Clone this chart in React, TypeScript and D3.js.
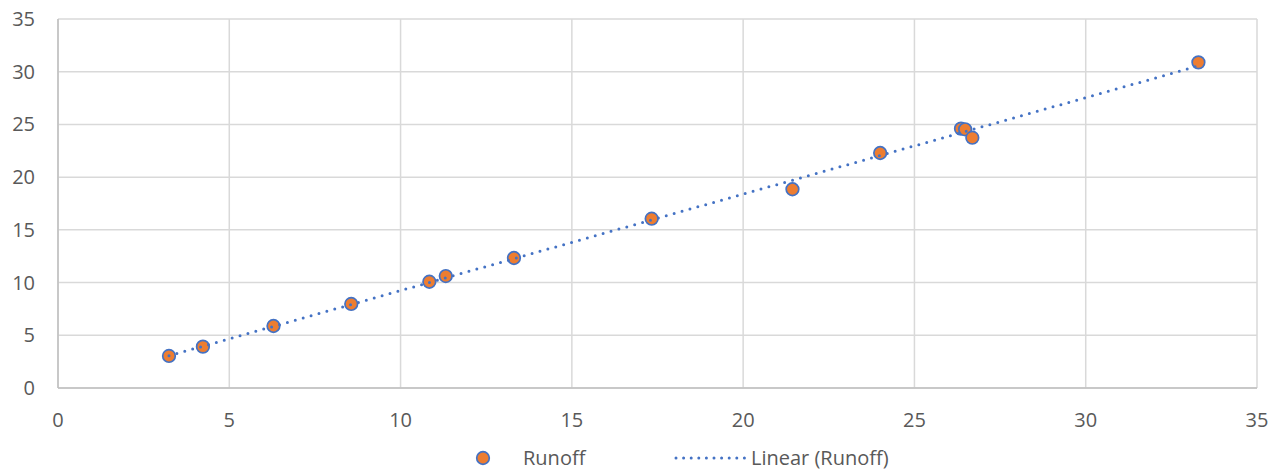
import React from "react";
import * as d3 from "d3";

const rainfall = [3.24, 4.23, 6.29, 8.56, 10.84, 11.32, 13.31, 17.33, 21.44, 24.0, 26.36, 26.48, 26.69, 33.29];
const runoff = [3.04, 3.92, 5.88, 7.97, 10.08, 10.62, 12.33, 16.06, 18.85, 22.29, 24.6, 24.54, 23.74, 30.89];
const xTicks = [0, 5, 10, 15, 20, 25, 30, 35];
const yTicks = [0, 5, 10, 15, 20, 25, 30, 35];
const seriesName = "Runoff";
const trendName = "Linear (Runoff)";

const W = 1282;
const H = 473;
const left = 58;
const right = 1257;
const top = 19;
const bottom = 388;
const FONT = "'Open Sans', sans-serif";
const TEXT = "#595959";
const GRID = "#d9d9d9";
const BLUE = "#4472C4";
const ORANGE = "#ED7D31";
const FS = 20;

export default function App() {
  const x = d3.scaleLinear().domain([0, 35]).range([left, right]);
  const y = d3.scaleLinear().domain([0, 35]).range([bottom, top]);

  const n = rainfall.length;
  const mx = d3.mean(rainfall)!;
  const my = d3.mean(runoff)!;
  let sxy = 0, sxx = 0;
  for (let i = 0; i < n; i++) {
    sxy += (rainfall[i] - mx) * (runoff[i] - my);
    sxx += (rainfall[i] - mx) ** 2;
  }
  const slope = sxy / sxx;
  const icpt = my - slope * mx;
  const x0 = d3.min(rainfall)!;
  const x1 = d3.max(rainfall)!;
  const line = d3.line<number>().x((d) => x(d)).y((d) => y(icpt + slope * d));

  return (
    <svg width={W} height={H} style={{ position: "absolute", left: 0, top: 0, background: "#fff" }}>
      <rect x={0} y={0} width={W} height={H} fill="#fff" />
      {yTicks.map((t) => (
        <line key={"gy" + t} x1={left} x2={right} y1={y(t)} y2={y(t)} stroke={GRID} strokeWidth={1.5} />
      ))}
      {xTicks.map((t) => (
        <line key={"gx" + t} x1={x(t)} x2={x(t)} y1={top} y2={bottom} stroke={GRID} strokeWidth={1.5} />
      ))}
      <line x1={left} x2={right} y1={bottom} y2={bottom} stroke="#bfbfbf" strokeWidth={1.5} />
      <line x1={left} x2={left} y1={top} y2={bottom} stroke="#bfbfbf" strokeWidth={1.5} />
      {yTicks.map((t) => (
        <text key={"ty" + t} x={35} y={y(t)} dy="0.35em" textAnchor="end" fontFamily={FONT} fontSize={FS} fill={TEXT}>
          {t}
        </text>
      ))}
      {xTicks.map((t) => (
        <text key={"tx" + t} x={x(t)} y={420} dy="0.35em" textAnchor="middle" fontFamily={FONT} fontSize={FS} fill={TEXT}>
          {t}
        </text>
      ))}
      {rainfall.map((v, i) => (
        <circle key={"p" + i} cx={x(v)} cy={y(runoff[i])} r={6.3} fill={ORANGE} stroke={BLUE} strokeWidth={1.7} />
      ))}
      <path d={line([x0, x1]) || ""} fill="none" stroke={BLUE} strokeWidth={3} strokeDasharray="0 8.2" strokeLinecap="round" />
      <circle cx={483} cy={458} r={6.3} fill={ORANGE} stroke={BLUE} strokeWidth={1.7} />
      <text x={523} y={458} dy="0.35em" fontFamily={FONT} fontSize={FS} fill={TEXT}>{seriesName}</text>
      <line x1={676} x2={745} y1={458} y2={458} stroke={BLUE} strokeWidth={3} strokeDasharray="0 7.6" strokeLinecap="round" />
      <text x={751} y={458} dy="0.35em" fontFamily={FONT} fontSize={FS} fill={TEXT}>{trendName}</text>
    </svg>
  );
}
